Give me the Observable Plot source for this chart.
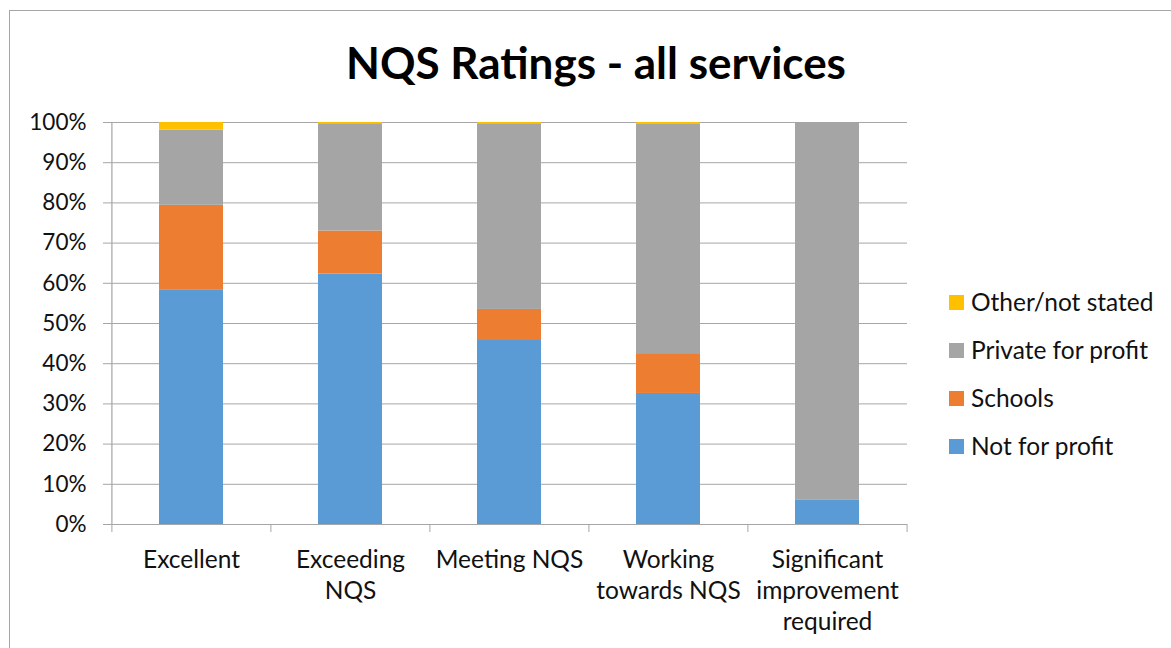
<!DOCTYPE html>
<html>
<head>
<meta charset="utf-8">
<script src="https://cdn.jsdelivr.net/npm/d3@7"></script>
<script src="https://cdn.jsdelivr.net/npm/@observablehq/plot@0.6"></script>
<style>
  html, body { margin: 0; padding: 0; background: #fff; overflow: hidden; }
  #wrap { position: relative; width: 1171px; height: 648px; font-family: Lato, "Open Sans", sans-serif; }
  #border { position: absolute; left: 9px; top: 10px; width: 1200px; height: 700px; border-left: 1.5px solid #a6a6a6; border-top: 1.5px solid #a6a6a6; box-sizing: border-box; }
  #title { position: absolute; left: 0; width: 1192px; top: 34px; text-align: center; font-weight: bold; font-size: 44px; color: #000; line-height: 56px; }
  #chart { position: absolute; left: 0; top: 0; }
  #legend { position: absolute; left: 949px; top: 287px; font-size: 24.5px; color: #111; }
  .item { position: relative; height: 48px; line-height: 30px; padding-left: 22px; white-space: nowrap; }
  .sw { position: absolute; left: 0; top: 8px; width: 15px; height: 15px; }
</style>
</head>
<body>
<div id="wrap">
  <div id="border"></div>
  <div id="chart"></div>
  <div id="title">NQS Ratings - all services</div>
  <div id="legend"></div>
</div>
<script>
// ---- data ----
const categories = ["Excellent", "Exceeding NQS", "Meeting NQS", "Working towards NQS", "Significant improvement required"];
const tickLabels = ["Excellent", "Exceeding\nNQS", "Meeting NQS", "Working\ntowards NQS", "Significant\nimprovement\nrequired"];
const seriesNames = ["Not for profit", "Schools", "Private for profit", "Other/not stated"];
const notForProfit = [58.4, 62.3, 46.0, 32.6, 6.0];
const schools = [21.0, 10.7, 7.5, 9.9, 0];
const privateForProfit = [18.7, 26.7, 46.2, 57.0, 94.0];
const otherNotStated = [1.9, 0.3, 0.3, 0.5, 0];
const seriesColors = ["#5B9BD5", "#ED7D31", "#A5A5A5", "#FFC000"];
const yTicks = [0, 10, 20, 30, 40, 50, 60, 70, 80, 90, 100];

const seriesValues = [notForProfit, schools, privateForProfit, otherNotStated];
const rows = [];
seriesNames.forEach((s, si) => {
  categories.forEach((c, ci) => {
    rows.push({rating: c, series: s, value: seriesValues[si][ci]});
  });
});

const W = 1171, H = 648, ML = 111, MR = 264, MT = 122, MB = 124;
const step = (W - ML - MR) / categories.length;
const labelOf = new Map(categories.map((c, i) => [c, tickLabels[i]]));

const chart = Plot.plot({
  width: W,
  height: H,
  marginLeft: ML,
  marginRight: MR,
  marginTop: MT,
  marginBottom: MB,
  style: {fontFamily: "Lato, 'Open Sans', sans-serif", background: "transparent", color: "#111"},
  x: {domain: categories, paddingInner: 0.6, paddingOuter: 0.3, axis: null, label: null},
  y: {domain: [0, 100], axis: null, label: null},
  color: {domain: seriesNames, range: seriesColors},
  marks: [
    Plot.gridY(yTicks, {stroke: "#a6a6a6", strokeOpacity: 1, strokeWidth: 1}),
    Plot.barY(rows, {x: "rating", y: "value", fill: "series"}),
    Plot.ruleY([0], {stroke: "#a6a6a6", strokeWidth: 1.2}),
    Plot.ruleX([categories[0]], {x: d => d, y1: 0, y2: 100, dx: -step / 2, stroke: "#a6a6a6", strokeWidth: 1.2}),
    Plot.axisY({ticks: yTicks, label: null, tickFormat: d => d + "%", tickSize: 8, tickPadding: 17, fontSize: 22.5, stroke: "#a6a6a6", fill: "#111"}),
    Plot.axisX({ticks: categories, label: null, tickSize: 8, tickFormat: () => "", dx: -step / 2, stroke: "#a6a6a6"}),
    Plot.axisX({ticks: categories.slice(-1), label: null, tickSize: 8, tickFormat: () => "", dx: step / 2, stroke: "#a6a6a6"}),
    Plot.axisX({ticks: categories, label: null, tickSize: 0, tickPadding: 21, tickFormat: d => labelOf.get(d), fontSize: 24.5, lineHeight: 1.27, lineAnchor: "top", fill: "#111"})
  ]
});
document.getElementById("chart").appendChild(chart);

// legend (reverse order, as in the reference)
const legend = document.getElementById("legend");
seriesNames.slice().reverse().forEach(name => {
  const i = seriesNames.indexOf(name);
  const div = document.createElement("div");
  div.className = "item";
  div.innerHTML = `<span class="sw" style="background:${seriesColors[i]}"></span>${name}`;
  legend.appendChild(div);
});
</script>
</body>
</html>
